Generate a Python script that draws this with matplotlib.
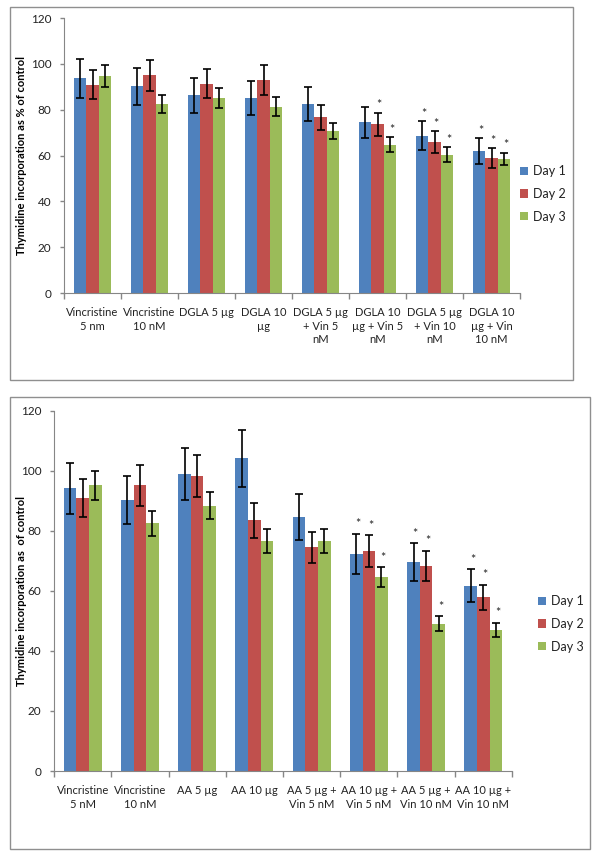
import numpy as np
import matplotlib
matplotlib.use('Agg')
import matplotlib.pyplot as plt
from matplotlib.patches import Rectangle

plt.rcParams['font.family'] = ['Lato', 'DejaVu Sans']

days = ['Day 1', 'Day 2', 'Day 3']
colors = ['#4F81BD', '#C0504D', '#9BBB59']

# top chart (DGLA)
top_labels = ['Vincristine\n5 nm', 'Vincristine\n10 nM', 'DGLA 5 µg', 'DGLA 10\nµg',
              'DGLA 5 µg\n+ Vin 5\nnM', 'DGLA 10\nµg + Vin 5\nnM', 'DGLA 5 µg\n+ Vin 10\nnM',
              'DGLA 10\nµg + Vin\n10 nM']
top_day1 = [93.8, 90.2, 86.3, 85.1, 82.6, 74.5, 68.7, 61.8]
top_day2 = [90.9, 95.0, 91.3, 93.1, 76.7, 73.6, 65.9, 58.8]
top_day3 = [94.8, 82.5, 85.1, 81.3, 70.8, 64.7, 60.4, 58.6]
top_err1 = [8.5, 8.2, 7.7, 7.6, 7.5, 6.8, 6.2, 5.7]
top_err2 = [6.4, 6.7, 6.4, 6.5, 5.5, 5.1, 4.7, 4.4]
top_err3 = [4.7, 4.1, 4.3, 4.1, 3.4, 3.3, 3.1, 2.7]
top_star1 = [0, 0, 0, 0, 0, 0, 1, 1]
top_star2 = [0, 0, 0, 0, 0, 1, 1, 1]
top_star3 = [0, 0, 0, 0, 0, 1, 1, 1]

# bottom chart (AA)
bot_labels = ['Vincristine\n5 nM', 'Vincristine\n10 nM', 'AA 5 µg', 'AA 10 µg',
              'AA 5 µg +\nVin 5 nM', 'AA 10 µg +\nVin 5 nM', 'AA 5 µg +\nVin 10 nM',
              'AA 10 µg +\nVin 10 nM']
bot_day1 = [94.1, 90.3, 98.9, 104.2, 84.7, 72.3, 69.5, 61.7]
bot_day2 = [91.0, 95.1, 98.1, 83.5, 74.5, 73.3, 68.4, 57.8]
bot_day3 = [95.1, 82.5, 88.4, 76.6, 76.6, 64.6, 49.0, 47.0]
bot_err1 = [8.5, 8.0, 8.8, 9.5, 7.7, 6.6, 6.3, 5.5]
bot_err2 = [6.4, 6.7, 7.0, 5.9, 5.2, 5.2, 5.0, 4.2]
bot_err3 = [4.8, 4.2, 4.4, 3.9, 3.9, 3.2, 2.5, 2.4]
bot_star1 = [0, 0, 0, 0, 0, 1, 1, 1]
bot_star2 = [0, 0, 0, 0, 0, 1, 1, 1]
bot_star3 = [0, 0, 0, 0, 0, 1, 1, 1]

W, H = 600, 858
fig = plt.figure(figsize=(W / 100, H / 100), dpi=100)

def px_axes(x0, y0, x1, y1):
    # pixel box (top-left origin) -> figure axes
    return fig.add_axes([x0 / W, 1 - y1 / H, (x1 - x0) / W, (y1 - y0) / H])

def frame(x0, y0, x1, y1):
    fig.patches.append(Rectangle((x0 / W, 1 - y1 / H), (x1 - x0) / W, (y1 - y0) / H,
                                 transform=fig.transFigure, fill=False,
                                 edgecolor='#8f8f8f', linewidth=1.0))

def panel(ax, labels, vals, errs, stars, ylabel, ylabel_x, legend_xy):
    x = np.arange(len(labels))
    w = 0.22
    txtc = '#222222'
    for i in range(3):
        pos = x + (i - 1) * w
        ax.bar(pos, vals[i], w, color=colors[i], label=days[i], zorder=2)
        ax.errorbar(pos, vals[i], yerr=errs[i], fmt='none', ecolor='black',
                    elinewidth=1.2, capsize=3, capthick=1.2, zorder=3)
        for p, v, e, s in zip(pos, vals[i], errs[i], stars[i]):
            if s:
                ax.text(p + 0.03, v + e + 3.2, '*', ha='center', va='center',
                        fontsize=9, color=txtc)
    ax.set_xlim(-0.5, len(labels) - 0.5)
    ax.set_ylim(0, 120)
    ax.set_yticks(range(0, 121, 20))
    ax.set_xticks(x)
    ax.set_xticklabels(labels, fontsize=8, color=txtc, linespacing=1.3)
    ax.set_xticks(np.arange(-0.5, len(labels)), minor=True)
    ax.tick_params(axis='x', which='major', length=0, pad=10)
    ax.tick_params(axis='x', which='minor', length=4, color='#868686', width=1)
    ax.tick_params(axis='y', length=3, color='#868686', width=1, pad=6,
                   labelsize=8.5, labelcolor=txtc)
    for s in ['top', 'right']:
        ax.spines[s].set_visible(False)
    for s in ['left', 'bottom']:
        ax.spines[s].set_color('#868686')
    ax.set_ylabel(ylabel, fontsize=8, fontweight='bold', color='black', va='center')
    x0 = ax.get_position().x0 * W
    x1 = ax.get_position().x1 * W
    ax.yaxis.set_label_coords((ylabel_x - x0) / (x1 - x0), 0.5)
    ax.legend(loc='center left', bbox_to_anchor=legend_xy, bbox_transform=fig.transFigure,
              frameon=False, fontsize=9, handlelength=0.65, handleheight=0.65,
              handletextpad=0.4, labelspacing=0.85, borderpad=0, borderaxespad=0,
              labelcolor=txtc)

frame(10, 7, 573, 380)
frame(10, 397, 590, 849)

ax1 = px_axes(64, 18, 520, 293)
panel(ax1, top_labels, [top_day1, top_day2, top_day3], [top_err1, top_err2, top_err3],
      [top_star1, top_star2, top_star3], 'Thymidine incorporation as % of control', 22,
      (520 / W, 1 - 194 / H))

ax2 = px_axes(54, 410.7, 512, 771)
panel(ax2, bot_labels, [bot_day1, bot_day2, bot_day3], [bot_err1, bot_err2, bot_err3],
      [bot_star1, bot_star2, bot_star3], 'Thymidine incorporation as  of control', 22,
      (538 / W, 1 - 624 / H))

fig.savefig('out.png', dpi=100)
